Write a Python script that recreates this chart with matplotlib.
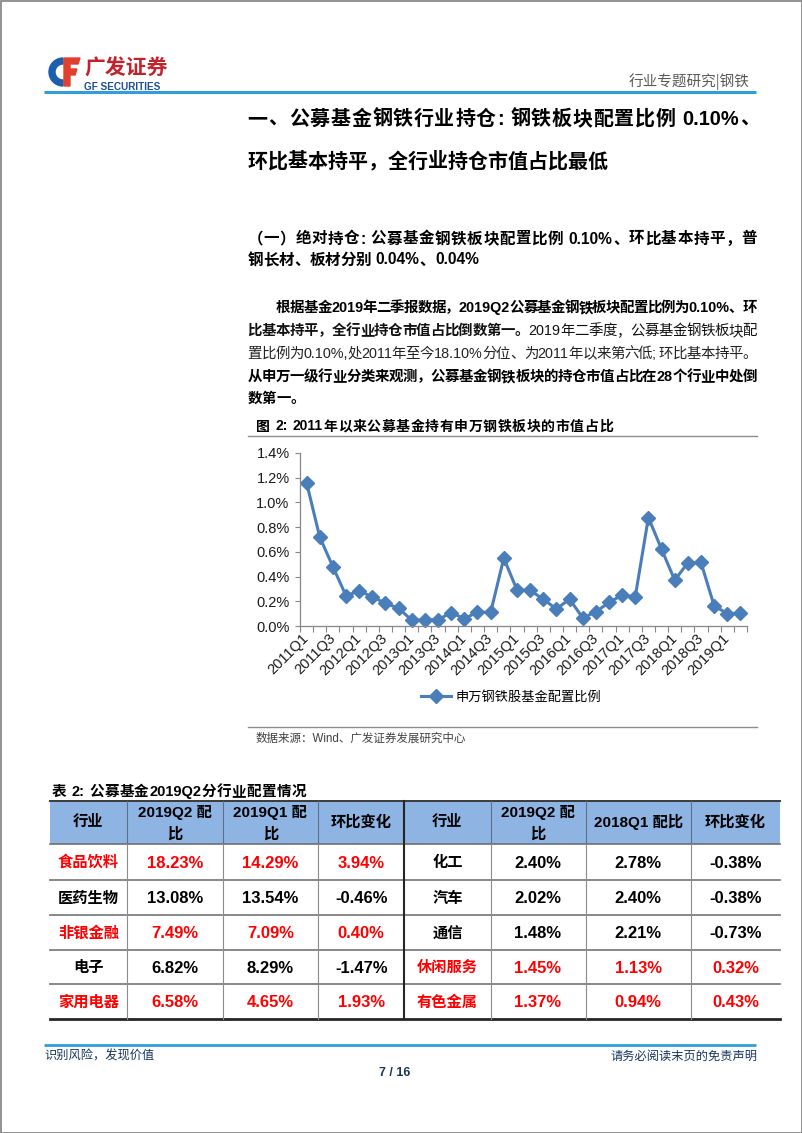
import matplotlib.pyplot as plt
from matplotlib.patches import Rectangle, Wedge, Polygon

CJK = 'Noto Sans CJK SC'
LAT = 'Liberation Sans'
NARROW = 'Liberation Sans Narrow'
FAM = [LAT, CJK]

# ---- chart data: 申万钢铁股基金配置比例 (%) ----
quarters = ['2011Q1', '2011Q2', '2011Q3', '2011Q4', '2012Q1', '2012Q2', '2012Q3', '2012Q4',
            '2013Q1', '2013Q2', '2013Q3', '2013Q4', '2014Q1', '2014Q2', '2014Q3', '2014Q4',
            '2015Q1', '2015Q2', '2015Q3', '2015Q4', '2016Q1', '2016Q2', '2016Q3', '2016Q4',
            '2017Q1', '2017Q2', '2017Q3', '2017Q4', '2018Q1', '2018Q2', '2018Q3', '2018Q4',
            '2019Q1', '2019Q2']
steel_share = [1.16, 0.72, 0.48, 0.245, 0.283, 0.237, 0.183, 0.145,
               0.046, 0.051, 0.051, 0.108, 0.059, 0.113, 0.11, 0.549,
               0.293, 0.288, 0.218, 0.137, 0.218, 0.067, 0.113, 0.191,
               0.25, 0.237, 0.878, 0.622, 0.371, 0.511, 0.514, 0.164,
               0.10, 0.102]
y_ticks = [0.0, 0.2, 0.4, 0.6, 0.8, 1.0, 1.2, 1.4]
series_name = '申万钢铁股基金配置比例'

# ---- table data ----
table_header = ['行业', '2019Q2 配|比', '2019Q1 配|比', '环比变化', '行业', '2019Q2 配|比', '2018Q1 配比', '环比变化']
left_ind = ['食品饮料', '医药生物', '非银金融', '电子', '家用电器']
left_q2 = [18.23, 13.08, 7.49, 6.82, 6.58]
left_q1 = [14.29, 13.54, 7.09, 8.29, 4.65]
left_chg = [3.94, -0.46, 0.40, -1.47, 1.93]
left_red = [True, False, True, False, True]
right_ind = ['化工', '汽车', '通信', '休闲服务', '有色金属']
right_q2 = [2.40, 2.02, 1.48, 1.45, 1.37]
right_q1 = [2.78, 2.40, 2.21, 1.13, 0.94]
right_chg = [-0.38, -0.38, -0.73, 0.32, 0.43]
right_red = [False, False, False, True, True]

fig = plt.figure(figsize=(8.02, 11.33), dpi=100)
page = fig.add_axes([0, 0, 1, 1])
page.set_xlim(0, 802)
page.set_ylim(1133, 0)
page.axis('off')
renderer = fig.canvas.get_renderer()

_adv = {}


def advance(s, bold, size):
    key = (s, bold, size)
    if key not in _adv:
        def wid(txt):
            t = page.text(0, 0, txt, fontsize=size, fontweight='bold' if bold else 'normal', family=FAM)
            w = t.get_window_extent(renderer).width
            t.remove()
            return w
        _adv[key] = wid('I' + s + 'I') - wid('II')
    return _adv[key]


def split_units(s):
    # latin words stay together, each CJK char is its own unit
    units = []
    buf = ''
    for ch in s:
        if ord(ch) < 128 and ch != ' ':
            buf += ch
        else:
            if buf:
                units.append(buf)
                buf = ''
            units.append(ch)
    if buf:
        units.append(buf)
    return units


def text_line(x0, y, runs, size, x1=None, color='black'):
    # draws a line unit by unit, optionally justified between x0 and x1
    items = []
    for s, bold in runs:
        for u in split_units(s):
            items.append((u, bold, advance(u, bold, size)))
    gap = 0
    if x1 is not None and len(items) > 1:
        gap = (x1 - x0 - sum(w for _, _, w in items)) / (len(items) - 1)
    x = x0
    for u, bold, w in items:
        if u != ' ':
            page.text(x, y, u, fontsize=size, fontweight='bold' if bold else 'normal',
                      family=FAM, color=color, va='baseline', ha='left')
        x += w + gap


# page border
page.add_patch(Rectangle((0.5, 0.5), 801, 1132, fill=False, ec='#7f7f7f', lw=1.2))

# ---- header ----
page.add_patch(Wedge((63, 72), 14, 90, 270, width=6, color='#1c5fae'))
page.add_patch(Polygon([(64, 58), (80, 58), (78, 64), (70, 64), (70, 69), (77, 69), (75, 75),
                        (70, 75), (70, 86), (64, 86)], closed=True, color='#e0402e'))
page.text(84, 68, '广发证券', fontsize=15, fontweight='bold', family=[CJK], color='#c0232c', va='center')
page.text(84, 86.5, 'GF SECURITIES', fontsize=7.2, fontweight='bold', family=[NARROW, LAT],
          color='#1e4e9a', va='center')
page.text(750, 81.5, '行业专题研究|钢铁', fontsize=10.5, family=[CJK], color='#595959', va='center', ha='right')
page.plot([44, 756], [92, 92], color='#2e9fd8', lw=2.2, solid_capstyle='butt')

# ---- title ----
text_line(247.5, 125, [('一、公募基金钢铁行业持仓: 钢铁板块配置比例 0.10%、', True)], 14.4, x1=760)
text_line(247.5, 167.5, [('环比基本持平，全行业持仓市值占比最低', True)], 14.4)
text_line(247.5, 243.5, [('（一）绝对持仓: 公募基金钢铁板块配置比例 0.10%、环比基本持平，普', True)], 11.2, x1=757)
text_line(247.5, 264.5, [('钢长材、板材分别 0.04%、0.04%', True)], 11.2)

# ---- paragraph ----
ps = 10.4
text_line(276, 312, [('根据基金2019年二季报数据，2019Q2公募基金钢铁板块配置比例为0.10%、环', True)], ps, x1=757)
text_line(247.5, 335, [('比基本持平，全行业持仓市值占比倒数第一。', True),
                       ('2019年二季度，公募基金钢铁板块配', False)], ps, x1=757, color='#111111')
text_line(247.5, 358, [('置比例为0.10%,处2011年至今18.10%分位、为2011年以来第六低; 环比基本持平。', False)],
          ps, x1=757, color='#222222')
text_line(247.5, 381, [('从申万一级行业分类来观测，公募基金钢铁板块的持仓市值占比在28个行业中处倒', True)], ps, x1=757)
text_line(247.5, 403, [('数第一。', True)], ps)

# ---- figure caption ----
text_line(256, 430.5, [('图 2: 2011年以来公募基金持有申万钢铁板块的市值占比', True)], 10, x1=613)
page.plot([248, 757], [436, 436], color='#8c8c8c', lw=1)

# ---- chart ----
ax = fig.add_axes([300 / 802, 1 - 626 / 1133, 447 / 802, 173 / 1133])
ax.patch.set_alpha(0)
x = list(range(len(quarters)))
ax.plot(x, steel_share, color='#4a7ebb', lw=2.2, marker='D', markersize=7,
        markeredgecolor='#4a7ebb', label=series_name, clip_on=False)
ax.set_xlim(-0.5, len(quarters) - 0.5)
ax.set_ylim(0, 1.4)
ax.set_yticks(y_ticks)
ax.set_yticklabels([f'{v:.1f}%' for v in y_ticks], fontsize=10.5, family=[LAT], color='#1a1a1a')
ax.set_xticks(x[::2])
ax.set_xticklabels(quarters[::2], rotation=45, ha='right', va='center', rotation_mode='anchor',
                   fontsize=10.5, family=[LAT], color='#1a1a1a')
ax.set_xticks([i - 0.5 for i in range(len(quarters) + 1)], minor=True)
ax.tick_params(axis='x', which='major', length=0, pad=7)
ax.tick_params(axis='x', which='minor', length=4, color='#868686', width=0.8)
ax.tick_params(axis='y', length=3.5, color='#868686', width=0.8, pad=4)
for side in ['top', 'right']:
    ax.spines[side].set_visible(False)
for side in ['left', 'bottom']:
    ax.spines[side].set_color('#868686')
    ax.spines[side].set_linewidth(0.9)
ax.legend(loc='center', bbox_to_anchor=(511 / 802, 1 - 697 / 1133), bbox_transform=fig.transFigure,
          frameon=False, handlelength=2.3, handletextpad=0.3, prop={'family': [CJK], 'size': 9.5})

page.plot([248, 757], [727, 727], color='#8c8c8c', lw=1)
page.text(256, 739, '数据来源：Wind、广发证券发展研究中心', fontsize=8.3, family=FAM, color='#404040', va='center')

# ---- table ----
text_line(52, 796, [('表 2: 公募基金2019Q2分行业配置情况', True)], 10.5, x1=306)
col_x = [50, 126.7, 222.7, 318.1, 404.3, 490.6, 585.5, 690.7, 780.4]
row_y = [800.7, 844, 880, 915, 950, 984.3, 1019.3]
page.add_patch(Rectangle((col_x[0], row_y[0]), col_x[-1] - col_x[0], row_y[1] - row_y[0],
                         color='#8db4e2', lw=0))
for i, h in enumerate(table_header):
    cx = (col_x[i] + col_x[i + 1]) / 2
    if '|' in h:
        a, b = h.split('|')
        page.text(cx, 812, a, fontsize=11, fontweight='bold', family=[NARROW, LAT, CJK], ha='center', va='center')
        page.text(cx, 833.5, b, fontsize=11, fontweight='bold', family=[CJK], ha='center', va='center')
    else:
        page.text(cx, 822, h, fontsize=11, fontweight='bold', family=[NARROW, LAT, CJK], ha='center', va='center')

for r in range(len(left_ind)):
    cy = (row_y[r + 1] + row_y[r + 2]) / 2
    lc = '#ff0000' if left_red[r] else 'black'
    rc = '#ff0000' if right_red[r] else 'black'
    cells = [(left_ind[r], lc), (f'{left_q2[r]:.2f}%', lc), (f'{left_q1[r]:.2f}%', lc), (f'{left_chg[r]:.2f}%', lc),
             (right_ind[r], rc), (f'{right_q2[r]:.2f}%', rc), (f'{right_q1[r]:.2f}%', rc), (f'{right_chg[r]:.2f}%', rc)]
    for c, (s, color) in enumerate(cells):
        cx = (col_x[c] + col_x[c + 1]) / 2
        if c in (0, 4):
            page.text(cx, cy, s, fontsize=11, fontweight='bold', family=[CJK], color=color,
                      ha='center', va='center')
        else:
            page.text(cx, cy + 1, s, fontsize=12, fontweight='bold', family=[NARROW, LAT], color=color,
                      ha='center', va='center')

for yy in row_y[2:-1]:
    page.plot([col_x[0], col_x[-1]], [yy, yy], color='#7f7f7f', lw=1.3)
page.plot([col_x[0], col_x[-1]], [row_y[0], row_y[0]], color='#3a3a3a', lw=1.4)
page.plot([col_x[0], col_x[-1]], [row_y[1], row_y[1]], color='#6f6f6f', lw=1.2)
page.plot([col_x[0], col_x[-1]], [row_y[-1], row_y[-1]], color='#262626', lw=2)
for i, xx in enumerate(col_x[1:-1], start=1):
    if i == 4:
        page.plot([xx, xx], [row_y[0], row_y[-1]], color='#262626', lw=1.5)
    else:
        page.plot([xx, xx], [row_y[0], row_y[1]], color='#5f6f88', lw=0.8)
        page.plot([xx, xx], [row_y[1], row_y[-1]], color='#8c8c8c', lw=0.8)

# ---- footer ----
page.plot([44, 756], [1045, 1045], color='#2e9fd8', lw=2, solid_capstyle='butt')
page.text(44, 1056, '识别风险，发现价值', fontsize=8.8, family=[CJK], color='#17365d', va='center')
page.text(757, 1056, '请务必阅读末页的免责声明', fontsize=8.8, family=[CJK], color='#17365d', va='center', ha='right')
page.text(395, 1073, '7 / 16', fontsize=9, fontweight='bold', family=[NARROW, LAT], color='#17365d',
          va='center', ha='center')

fig.savefig('out.png', dpi=100)
